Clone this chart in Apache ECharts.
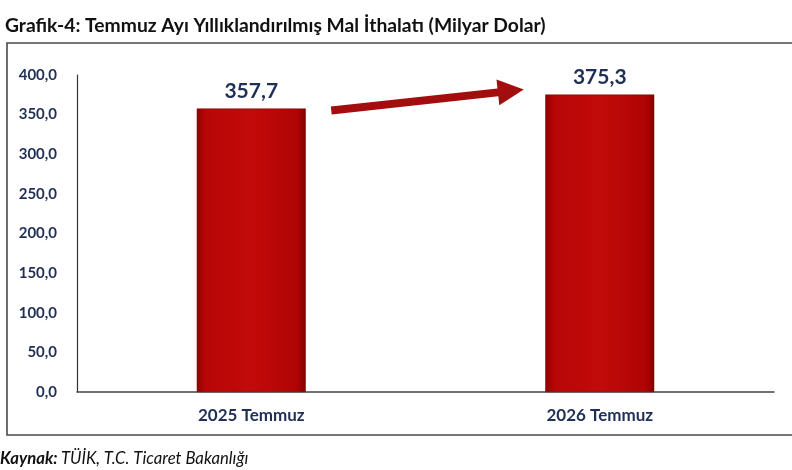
<!DOCTYPE html>
<html><head><meta charset="utf-8">
<script src="https://cdn.jsdelivr.net/npm/echarts@6/dist/echarts.min.js"></script>
<style>html,body{margin:0;padding:0;background:#fff}#c{width:792px;height:470px}</style>
</head><body><div id="c"></div>
<script>
const categories = ['2025 Temmuz', '2026 Temmuz'];
const values = [357.7, 375.3];
const yTicks = [0, 50, 100, 150, 200, 250, 300, 350, 400];
const titleText = 'Grafik-4: Temmuz Ayı Yıllıklandırılmış Mal İthalatı (Milyar Dolar)';

const fmt = v => v.toFixed(1).replace('.', ',');
const navy = '#1f2f55';
const font = 'Lato, "Open Sans", sans-serif';

const chart = echarts.init(document.getElementById('c'));
const barColor = new echarts.graphic.LinearGradient(0, 0, 1, 0, [
  {offset: 0, color: '#8e0000'},
  {offset: 0.08, color: '#b80606'},
  {offset: 0.5, color: '#c20a0a'},
  {offset: 0.92, color: '#b00404'},
  {offset: 1, color: '#800000'}
]);
chart.setOption({
  animation: false,
  title: {
    text: titleText, left: 0, top: 11,
    textStyle: {fontFamily: font, fontWeight: 'bold', fontSize: 19.3, color: '#111'}
  },
  grid: {left: 77, right: 18, top: 75, bottom: 78, containLabel: false},
  xAxis: {
    type: 'category', data: categories,
    axisLine: {lineStyle: {color: '#444', width: 1.5}},
    axisTick: {show: false},
    axisLabel: {fontFamily: font, fontWeight: 'bold', fontSize: 17, color: navy, margin: 15}
  },
  yAxis: {
    type: 'value', min: 0, max: 400, interval: 50,
    axisLine: {show: true, lineStyle: {color: '#333', width: 1.2}},
    axisTick: {show: false},
    splitLine: {show: false},
    axisLabel: {fontFamily: font, fontWeight: 'bold', fontSize: 15, color: navy, margin: 20,
      formatter: v => yTicks.includes(v) ? fmt(v) : ''}
  },
  series: [{
    type: 'bar', data: values, barWidth: 109,
    itemStyle: {color: barColor, borderColor: '#7a0000', borderWidth: 0.5},
    label: {show: true, position: 'top', distance: 7, formatter: p => fmt(p.value),
      fontFamily: font, fontWeight: 'bold', fontSize: 21, color: navy}
  }]
});

function drawExtras() {
  const p0 = chart.convertToPixel({seriesIndex: 0}, [0, values[0]]);
  const p1 = chart.convertToPixel({seriesIndex: 0}, [1, values[1]]);
  const x1 = p0[0] + 80, y1 = p0[1] + 2;
  const x2 = p1[0] - 76, y2 = p1[1] - 5;
  const ang = Math.atan2(y2 - y1, x2 - x1);
  const headLen = 26, headW = 13, shaft = 4;
  const bx = x2 - headLen * Math.cos(ang), by = y2 - headLen * Math.sin(ang);
  const nx = -Math.sin(ang), ny = Math.cos(ang);
  const pts = [
    [x1 + nx * shaft, y1 + ny * shaft],
    [bx + nx * shaft, by + ny * shaft],
    [bx + nx * headW, by + ny * headW],
    [x2, y2],
    [bx - nx * headW, by - ny * headW],
    [bx - nx * shaft, by - ny * shaft],
    [x1 - nx * shaft, y1 - ny * shaft]
  ];
  chart.setOption({
    graphic: [
      {type: 'rect', shape: {x: 7, y: 43, width: 800, height: 392},
        style: {fill: 'none', stroke: '#4a4a4a', lineWidth: 1.6}, silent: true, z: -1},
      {type: 'polygon', shape: {points: pts}, style: {fill: '#a30d0d'}, silent: true},
      {type: 'text', left: 0, top: 450, style: {
        text: '{b|Kaynak:} {i|TÜİK, T.C. Ticaret Bakanlığı}',
        rich: {
          b: {fontFamily: font, fontWeight: 'bold', fontStyle: 'italic', fontSize: 16.7, fill: '#111'},
          i: {fontFamily: font, fontStyle: 'italic', fontSize: 16.7, fill: '#111'}
        }
      }}
    ]
  });
}
drawExtras();
</script></body></html>
